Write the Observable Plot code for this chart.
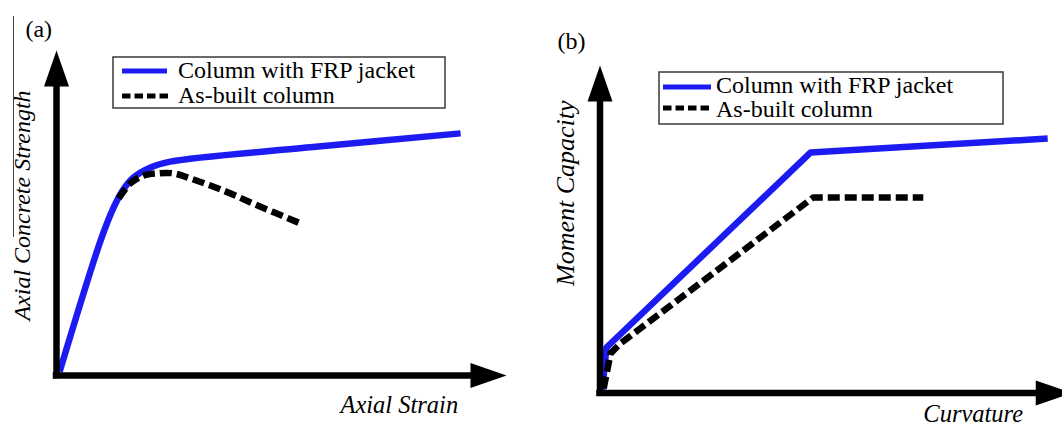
<!DOCTYPE html>
<html>
<head>
<meta charset="utf-8">
<script src="https://cdn.jsdelivr.net/npm/d3@7"></script>
<script src="https://cdn.jsdelivr.net/npm/@observablehq/plot@0.6"></script>
<style>
  html, body { margin: 0; padding: 0; background: #fff; }
  #wrap { position: relative; width: 1062px; height: 427px; overflow: hidden; background: #fff;
          font-family: "Liberation Serif", Tinos, "Times New Roman", "DejaVu Serif", "Noto Serif", serif; }
  #wrap .panel { position: absolute; top: 0; width: 531px; height: 427px; overflow: hidden; }
  #wrap text { font-family: "Liberation Serif", Tinos, "Times New Roman", "DejaVu Serif", "Noto Serif", serif !important; }
</style>
</head>
<body>
<div id="wrap"></div>
<script>
// ---------------- data ----------------
const seriesNames = ["Column with FRP jacket", "As-built column"];
const seriesColors = ["#1c1cf2", "#000000"];
const panelLabels = ["(a)", "(b)"];
const xLabels = ["Axial Strain", "Curvature"];
const yLabels = ["Axial Concrete Strength", "Moment Capacity"];

// Panel (a): axial strain vs axial concrete strength (relative units 0-100)
const strainA_frp = [0.7, 9.8, 12.7, 14.7, 17.1, 20.9, 25.3, 56.4, 89.8];
const stressA_frp = [1.2, 41.5, 51.7, 56.9, 60.9, 64.0, 65.8, 70.2, 74.5];
const strainA_asb = [13.8, 16.4, 19.3, 22.4, 26.0, 29.8, 37.1, 44.7, 54.2];
const stressA_asb = [54.5, 59.1, 61.5, 62.2, 62.2, 60.6, 56.9, 52.3, 46.8];

// Panel (b): curvature vs moment capacity (relative units 0-100)
const curvB_frp = [0.5, 1.4, 45.5, 96.8];
const momB_frp  = [1.0, 13.9, 73.4, 77.7];
const curvB_asb = [0.8, 2.3, 4.4, 46.1, 69.9];
const momB_asb  = [1.4, 12.1, 15.1, 59.7, 59.7];

// ---------------- helpers ----------------
const zip = (xs, ys) => xs.map((x, i) => ({x, y: ys[i]}));
const arrowUp = {draw(ctx) { ctx.moveTo(0, 0); ctx.lineTo(12.5, 36); ctx.lineTo(-12.5, 36); ctx.closePath(); }};
const arrowRight = {draw(ctx) { ctx.moveTo(0, 0); ctx.lineTo(-36, -12.5); ctx.lineTo(-36, 12.5); ctx.closePath(); }};
const FONT = "Liberation Serif, Tinos, Times New Roman, DejaVu Serif, Noto Serif, serif";
const LW = 6.5;

function makePanel(cfg) {
  const {frp, asb, curve, margins, xTip, xRuleEnd, yRuleEnd, idx, lab, ySize} = cfg;
  return Plot.plot({
    width: 531, height: 427,
    marginLeft: margins[0], marginRight: margins[1], marginTop: margins[2], marginBottom: margins[3],
    x: {domain: [0, 100], axis: null},
    y: {domain: [0, 100], axis: null},
    style: {background: "transparent", fontFamily: FONT, maxWidth: "none", overflow: "visible"},
    marks: [
      Plot.line(frp, {x: "x", y: "y", stroke: seriesColors[0], strokeWidth: LW, curve,
                      strokeLinecap: "butt", strokeLinejoin: "round"}),
      Plot.line(asb, {x: "x", y: "y", stroke: seriesColors[1], strokeWidth: LW, curve,
                      strokeDasharray: "12,5", strokeLinecap: "butt", strokeLinejoin: "round"}),
      Plot.ruleX([0], {y1: 0, y2: yRuleEnd, stroke: "black", strokeWidth: LW, strokeLinecap: "square"}),
      Plot.ruleY([0], {x1: 0, x2: xRuleEnd, stroke: "black", strokeWidth: LW, strokeLinecap: "square"}),
      Plot.dot([0], {x: 0, y: 100, symbol: arrowUp, fill: "black", stroke: "none"}),
      Plot.dot([0], {x: xTip, y: 0, symbol: arrowRight, fill: "black", stroke: "none"}),
      Plot.text([panelLabels[idx]], {x: lab.p[0], y: lab.p[1], text: d => d, textAnchor: "start",
                 lineAnchor: "bottom", fontSize: 24, fontFamily: FONT, fill: "black"}),
      Plot.text([xLabels[idx]], {x: lab.x[0], y: lab.x[1], text: d => d, textAnchor: "start",
                 lineAnchor: "bottom", fontSize: 24.5, fontStyle: "italic", fontFamily: FONT, fill: "black"}),
      Plot.text([yLabels[idx]], {x: lab.y[0], y: lab.y[1], text: d => d, textAnchor: "middle",
                 lineAnchor: "bottom", rotate: -90, fontSize: ySize, fontStyle: "italic", fontFamily: FONT, fill: "black"})
    ]
  });
}

function addLegend(parent, box, rows) {
  const svg = d3.create("svg")
    .attr("width", box.w + 4).attr("height", box.h + 4)
    .style("position", "absolute").style("left", (box.x - 2) + "px").style("top", (box.y - 2) + "px");
  svg.append("rect").attr("x", 2).attr("y", 2).attr("width", box.w).attr("height", box.h)
    .attr("fill", "white").attr("stroke", "#3a3a3a").attr("stroke-width", 1.5);
  seriesNames.forEach((name, i) => {
    const r = rows[i];
    svg.append("line").attr("x1", r.x1 + 2).attr("x2", r.x2 + 2).attr("y1", r.sy + 2).attr("y2", r.sy + 2)
      .attr("stroke", seriesColors[i]).attr("stroke-width", 5)
      .attr("stroke-dasharray", i === 1 ? "8.5,4" : null);
    svg.append("text").attr("x", r.tx + 2).attr("y", r.ty + 2)
      .attr("font-family", FONT).attr("font-size", 24).attr("fill", "black").text(name);
  });
  parent.appendChild(svg.node());
}

// ---------------- layout ----------------
const wrap = document.getElementById("wrap");

const pa = document.createElement("div");
pa.className = "panel"; pa.style.left = "0px";
pa.appendChild(makePanel({
  idx: 0,
  frp: zip(strainA_frp, stressA_frp),
  asb: zip(strainA_asb, stressA_asb),
  curve: "catmull-rom",
  margins: [56, 25, 50, 52],
  xTip: 100, xRuleEnd: 93, yRuleEnd: 90,
  ySize: 24,
  lab: {p: [-6.9, 104.3], x: [63.1, -11.4], y: [-6.0, 52.3]}
}));
wrap.appendChild(pa);

const pb = document.createElement("div");
pb.className = "panel"; pb.style.left = "531px";
pb.appendChild(makePanel({
  idx: 1,
  frp: zip(curvB_frp, momB_frp),
  asb: zip(curvB_asb, momB_asb),
  curve: "linear",
  margins: [68.5, 0, 65, 34.5],
  xTip: 102, xRuleEnd: 96, yRuleEnd: 90,
  ySize: 26,
  lab: {p: [-9.2, 104.9], x: [69.9, -9.0], y: [-5.6, 61.0]}
}));
wrap.appendChild(pb);

// thin vertical rule left of panel (a) label, as in the source figure
const thin = document.createElement("div");
Object.assign(thin.style, {position: "absolute", left: "13px", top: "16px", width: "0px", height: "221px",
  borderLeft: "1px solid #444"});
wrap.appendChild(thin);

addLegend(wrap, {x: 113, y: 57, w: 332, h: 51}, [
  {x1: 9, x2: 54, sy: 14, tx: 65, ty: 21},
  {x1: 9, x2: 57, sy: 39, tx: 65, ty: 46}
]);
addLegend(wrap, {x: 659, y: 72, w: 344, h: 52}, [
  {x1: 4, x2: 52, sy: 15, tx: 57, ty: 21},
  {x1: 4, x2: 52, sy: 36, tx: 57, ty: 45}
]);
</script>
</body>
</html>
